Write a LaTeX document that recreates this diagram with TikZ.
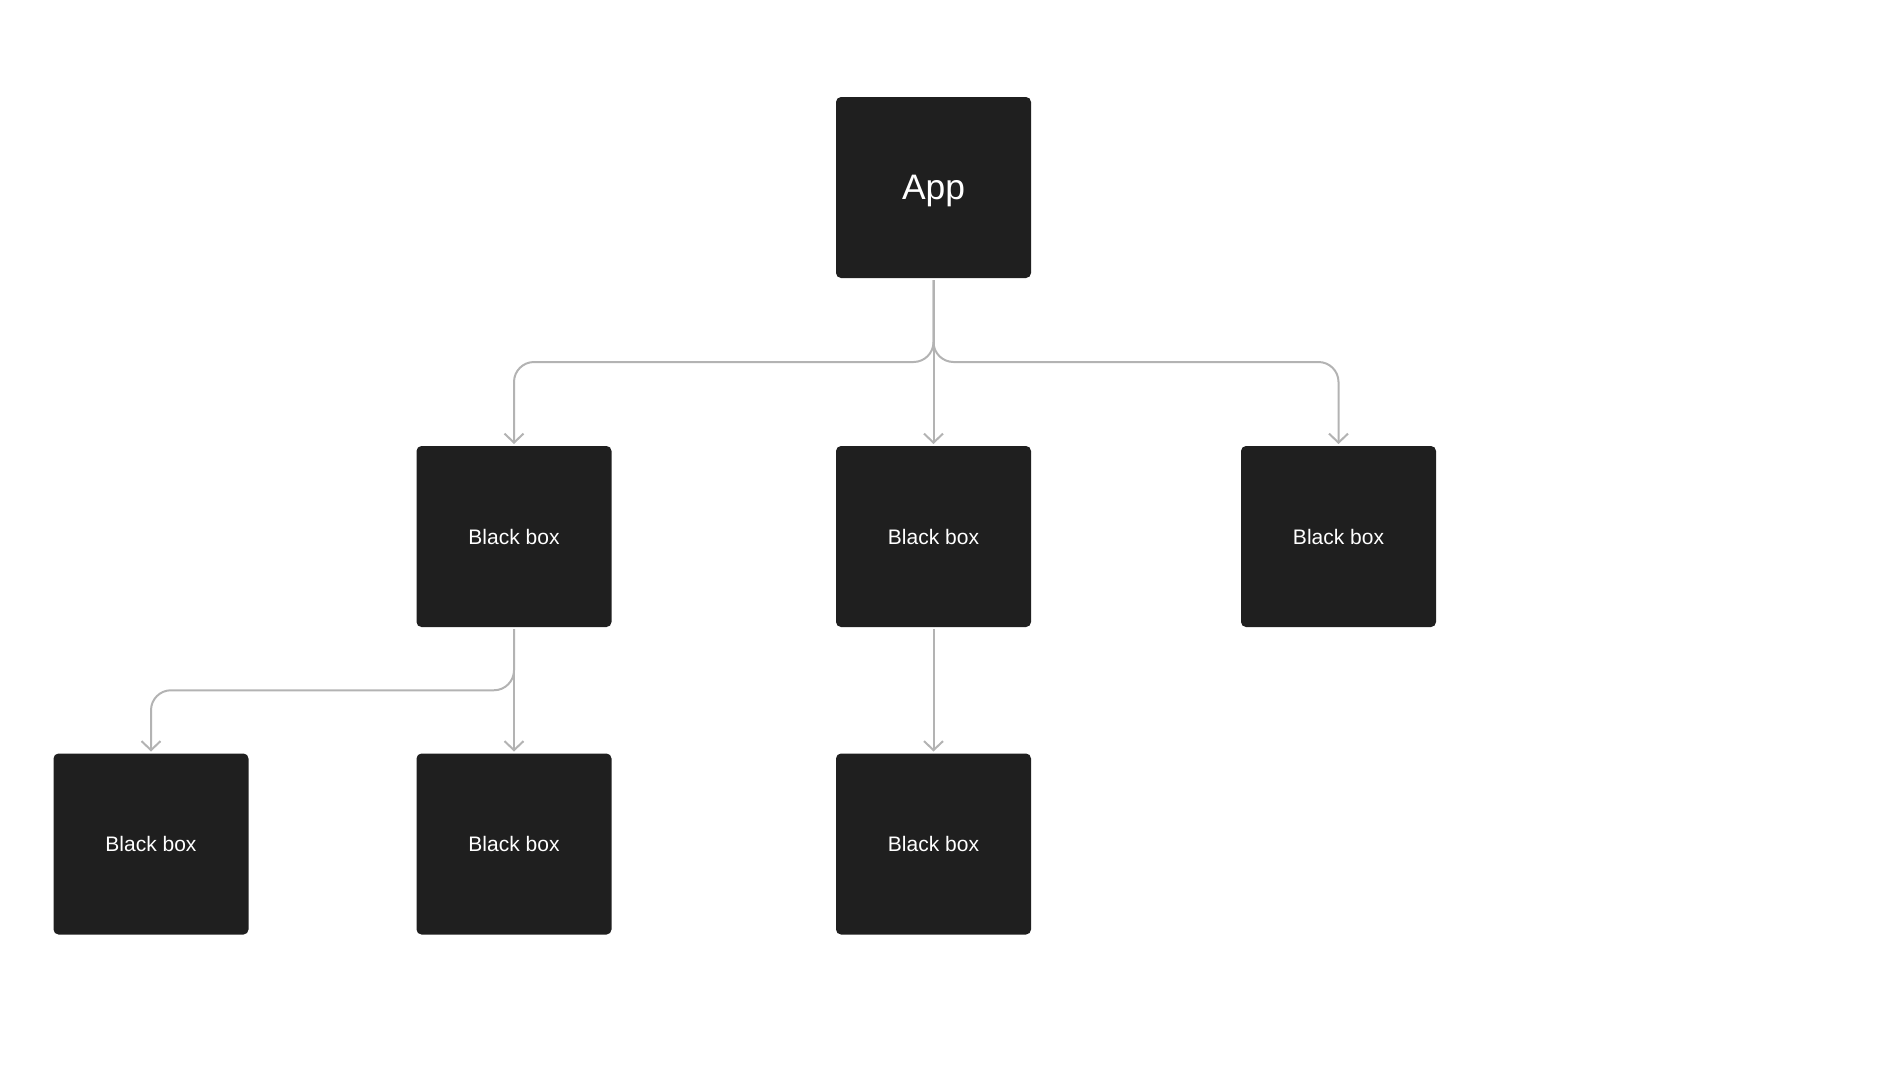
\documentclass[tikz,border=0pt]{standalone}
\usepackage{fontspec}
\setmainfont{Liberation Sans}
\usetikzlibrary{arrows.meta,calc}
\definecolor{boxfill}{HTML}{1F1F1F}
\definecolor{linegray}{HTML}{B3B3B3}
\begin{document}
\begin{tikzpicture}[x=0.5pt,y=-0.5pt,
	every node/.style={fill=boxfill, text=white, rounded corners=2.5pt, minimum width=97.5pt, minimum height=90.5pt, inner sep=0pt, outer sep=1pt, font=\fontsize{10.5}{12}\selectfont},
	link/.style={draw=linegray, line width=1pt, rounded corners=10pt, -{Straight Barb[length=4.5pt,width=9.5pt]}}]
	
	\useasboundingbox (0,0) rectangle (1888,1082);
	
	\node[font=\fontsize{17.7}{20}\selectfont, text depth=0pt] (app) at (933.5,187.5) {App};
	
	\node (1) at (514,536.5) {Black box};
	\node (2) at (933.5,536.5) {Black box};
	\node (3) at (1338.5,536.5) {Black box};
	
	\node (4) at (151,844) {Black box};
	\node (5) at (514,844) {Black box};
	\node (6) at (933.5,844) {Black box};
	
	\draw[link] (app) |- ($(app.south)!.5!(1.north)$) -| (1);
	\path (app) edge[link] (2);
	\draw[link] (app) |- ($(app.south)!.5!(3.north)$) -| (3);
	
	\draw[link] (1) |- ($(1.south)!.5!(4.north)$) -| (4);
	\path (1) edge[link] (5);
	\path (2) edge[link] (6);
	
\end{tikzpicture}
\end{document}
